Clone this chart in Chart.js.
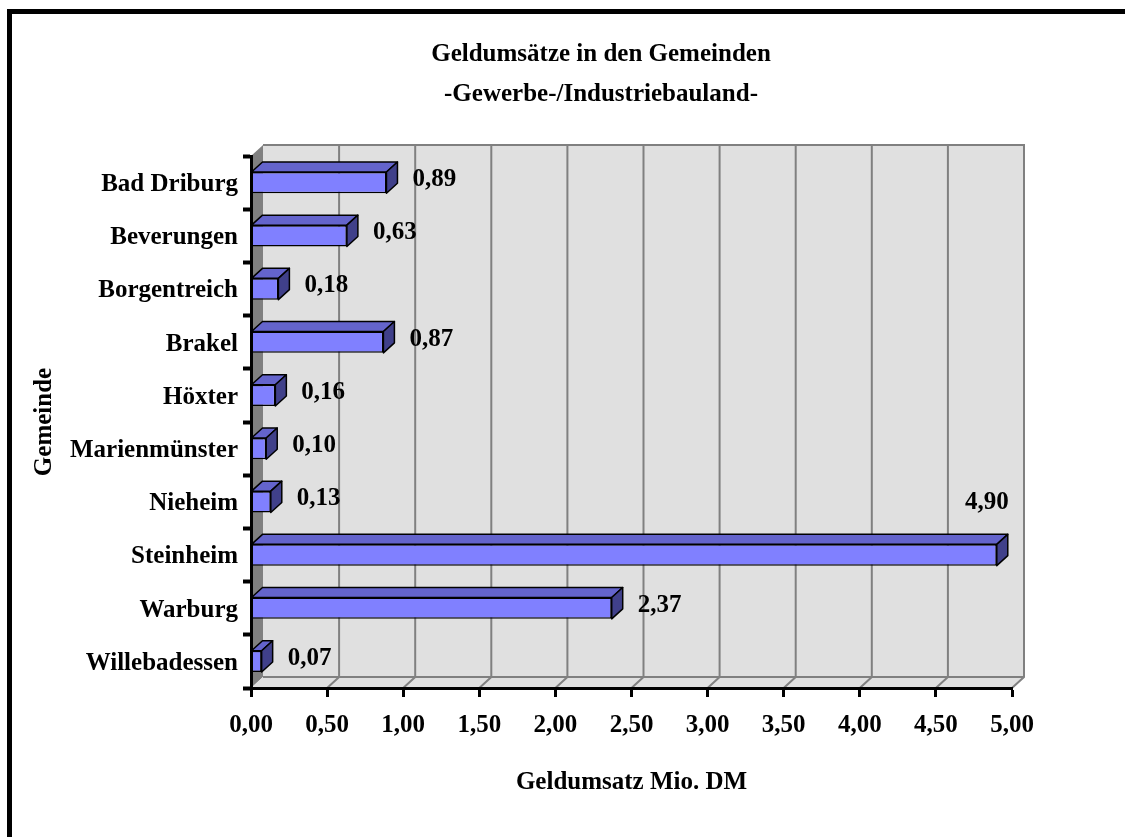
<!DOCTYPE html>
<html lang="de">
<head>
    <meta charset="UTF-8">
    <title>Geldumsätze in den Gemeinden</title>
    <script src="https://cdn.jsdelivr.net/npm/chart.js"></script>
    <style>
        body { margin: 0; background: #fff; }
        .chart-box { width: 1125px; height: 837px; position: relative; }
    </style>
</head>
<body>
    <div class="chart-box">
        <canvas id="umsatzChart"></canvas>
    </div>

    <script>
        // Daten
        const gemeinden = ['Bad Driburg', 'Beverungen', 'Borgentreich', 'Brakel', 'Höxter',
                           'Marienmünster', 'Nieheim', 'Steinheim', 'Warburg', 'Willebadessen'];
        const umsatz = [0.89, 0.63, 0.18, 0.87, 0.16, 0.10, 0.13, 4.90, 2.37, 0.07];
        const xMin = 0, xMax = 5, xStep = 0.5;
        const titelZeilen = ['Geldumsätze in den Gemeinden', '-Gewerbe-/Industriebauland-'];

        const serif = "'Liberation Serif', 'Times New Roman', serif";
        const WALL_DX = 12, WALL_DY = 11;   // Tiefe der Rückwand
        const BAR_DX = 11, BAR_DY = 10;     // Tiefe der Balken

        const komma = v => Number(v).toFixed(2).replace('.', ',');

        // Rahmen, Titel, Wände und Boden hinter allem
        const walls = {
            id: 'walls',
            beforeDraw(chart) {
                const ctx = chart.ctx;
                const a = chart.chartArea;
                const xs = chart.scales.x;
                ctx.save();
                ctx.fillStyle = '#000';
                ctx.fillRect(7, 9, chart.width, 5);
                ctx.fillRect(7, 9, 5, chart.height);

                // Titel (nicht über der Mitte der Zeichenfläche, sondern wie im Original)
                ctx.font = 'bold 25px ' + serif;
                ctx.textAlign = 'center';
                ctx.textBaseline = 'middle';
                titelZeilen.forEach((t, i) => ctx.fillText(t, 601, 55 + i * 40));

                // Rückwand
                ctx.fillStyle = '#e0e0e0';
                ctx.fillRect(a.left + WALL_DX, a.top - WALL_DY, a.right - a.left, a.bottom - a.top);
                // linke Seitenwand
                ctx.fillStyle = '#808080';
                ctx.beginPath();
                ctx.moveTo(a.left, a.top);
                ctx.lineTo(a.left + WALL_DX, a.top - WALL_DY);
                ctx.lineTo(a.left + WALL_DX, a.bottom - WALL_DY);
                ctx.lineTo(a.left, a.bottom);
                ctx.closePath();
                ctx.fill();
                // Boden
                ctx.fillStyle = '#e0e0e0';
                ctx.beginPath();
                ctx.moveTo(a.left, a.bottom);
                ctx.lineTo(a.left + WALL_DX, a.bottom - WALL_DY);
                ctx.lineTo(a.right + WALL_DX, a.bottom - WALL_DY);
                ctx.lineTo(a.right, a.bottom);
                ctx.closePath();
                ctx.fill();

                // Gitterlinien auf Rückwand und Boden
                ctx.strokeStyle = '#808080';
                ctx.lineWidth = 2;
                for (let v = xMin + xStep; v <= xMax + 1e-9; v += xStep) {
                    const px = xs.getPixelForValue(v);
                    ctx.beginPath();
                    ctx.moveTo(px + WALL_DX, a.top - WALL_DY);
                    ctx.lineTo(px + WALL_DX, a.bottom - WALL_DY);
                    ctx.lineTo(px, a.bottom);
                    ctx.stroke();
                }
                ctx.beginPath();
                ctx.moveTo(a.left + WALL_DX, a.top - WALL_DY);
                ctx.lineTo(a.right + WALL_DX, a.top - WALL_DY);
                ctx.lineTo(a.right + WALL_DX, a.bottom - WALL_DY);
                ctx.moveTo(a.left + WALL_DX, a.bottom - WALL_DY);
                ctx.lineTo(a.right + WALL_DX, a.bottom - WALL_DY);
                ctx.stroke();
                ctx.restore();
            }
        };

        // Ober- und Seitenflächen der Balken, dann die Werte
        const bars3d = {
            id: 'bars3d',
            afterDatasetsDraw(chart) {
                const ctx = chart.ctx;
                const a = chart.chartArea;
                const ys = chart.scales.y;
                const meta = chart.getDatasetMeta(0);
                const rowH = ys.getPixelForValue(1) - ys.getPixelForValue(0);
                ctx.save();
                ctx.strokeStyle = '#000';
                ctx.lineWidth = 1.5;
                ctx.lineJoin = 'round';
                meta.data.forEach((el, i) => {
                    const p = el.getProps(['x', 'y', 'base', 'height'], true);
                    const top = p.y - p.height / 2, bot = p.y + p.height / 2;
                    // Oberseite
                    ctx.fillStyle = '#6464cc';
                    ctx.beginPath();
                    ctx.moveTo(p.base, top);
                    ctx.lineTo(p.base + BAR_DX, top - BAR_DY);
                    ctx.lineTo(p.x + BAR_DX, top - BAR_DY);
                    ctx.lineTo(p.x, top);
                    ctx.closePath();
                    ctx.fill(); ctx.stroke();
                    // Seite
                    ctx.fillStyle = '#40408a';
                    ctx.beginPath();
                    ctx.moveTo(p.x, top);
                    ctx.lineTo(p.x + BAR_DX, top - BAR_DY);
                    ctx.lineTo(p.x + BAR_DX, bot - BAR_DY);
                    ctx.lineTo(p.x, bot);
                    ctx.closePath();
                    ctx.fill(); ctx.stroke();

                    // Wertbeschriftung
                    const txt = komma(umsatz[i]);
                    ctx.font = 'bold 25px ' + serif;
                    ctx.fillStyle = '#000';
                    ctx.textBaseline = 'middle';
                    const w = ctx.measureText(txt).width;
                    if (p.x + 26 + w > a.right + WALL_DX) {
                        ctx.textAlign = 'right';
                        ctx.fillText(txt, p.x + 12, p.y - rowH + 1);
                    } else {
                        ctx.textAlign = 'left';
                        ctx.fillText(txt, p.x + 26, p.y - 3);
                    }
                });
                ctx.restore();
            }
        };

        new Chart(document.getElementById('umsatzChart'), {
            type: 'bar',
            data: {
                labels: gemeinden,
                datasets: [{
                    label: 'Geldumsatz Mio. DM',
                    data: umsatz,
                    backgroundColor: '#8080ff',
                    borderColor: '#000',
                    borderWidth: 1.5,
                    borderSkipped: false,
                    categoryPercentage: 1,
                    barPercentage: 0.4
                }]
            },
            options: {
                indexAxis: 'y',
                responsive: true,
                maintainAspectRatio: false,
                animation: false,
                layout: { padding: { left: 10, right: 113, top: 156, bottom: 0 } },
                plugins: {
                    legend: { display: false },
                    tooltip: { enabled: false },
                    title: { display: false }
                },
                scales: {
                    x: {
                        min: xMin,
                        max: xMax,
                        afterFit(scale) { scale.height = 149; },
                        ticks: {
                            stepSize: xStep,
                            color: '#000',
                            padding: 14,
                            font: { family: serif, size: 25, weight: 'bold' },
                            callback: v => komma(v)
                        },
                        grid: { drawOnChartArea: false, drawTicks: true, tickLength: 9, tickWidth: 3, color: '#000' },
                        border: { display: true, color: '#000', width: 3 },
                        title: {
                            display: true,
                            text: 'Geldumsatz Mio. DM',
                            color: '#000',
                            font: { family: serif, size: 25, weight: 'bold' },
                            padding: { top: 4, bottom: 39 }
                        }
                    },
                    y: {
                        afterFit(scale) { scale.width = 241; },
                        ticks: {
                            color: '#000',
                            padding: 5,
                            labelOffset: 2,
                            font: { family: serif, size: 25, weight: 'bold' }
                        },
                        grid: { drawOnChartArea: false, drawTicks: true, tickLength: 8, tickWidth: 4, color: '#000' },
                        border: { display: true, color: '#000', width: 3 },
                        title: {
                            display: true,
                            text: 'Gemeinde',
                            color: '#000',
                            font: { family: serif, size: 25, weight: 'bold' },
                            padding: { top: 20, bottom: 0 }
                        }
                    }
                }
            },
            plugins: [walls, bars3d]
        });
    </script>
</body>
</html>
